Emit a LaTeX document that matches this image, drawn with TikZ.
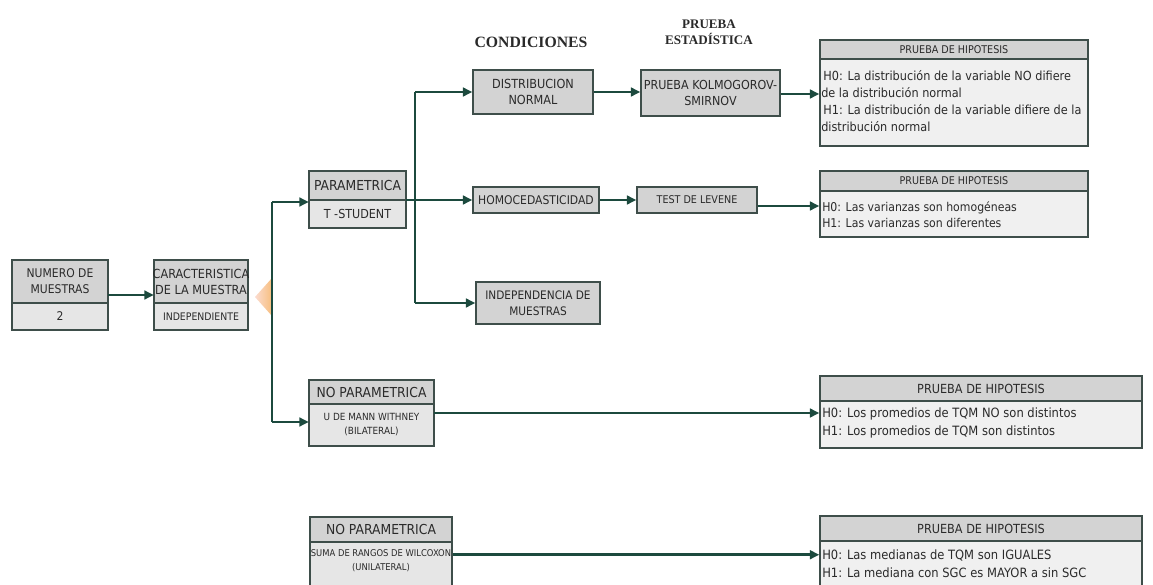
\documentclass[tikz,border=0pt]{standalone}
\usepackage{fontspec}
\setmainfont{DejaVu Sans}[FakeStretch=0.9]
\newfontfamily\hdfont{Liberation Serif}
\usetikzlibrary{fit,arrows.meta}
\definecolor{bordc}{HTML}{3E4E4A}
\definecolor{hdrfill}{HTML}{D3D3D3}
\definecolor{lowfill}{HTML}{E6E6E6}
\definecolor{bodyfill}{HTML}{F0F0F0}
\definecolor{arrc}{HTML}{1C4A3E}
\definecolor{trileft}{HTML}{FBDCD0}
\definecolor{triright}{HTML}{F7BE7E}
\definecolor{txtc}{HTML}{2A2A2A}
\newcommand{\fz}[2]{\fontsize{#1}{#2}\selectfont}
% \cbox{style}{fit points}{name}{font}{text}
\newcommand{\cbox}[5]{%
  \node[#1, fit={#2}] (#3) {};
  \node[inner sep=0pt, align=center, text=txtc, font=#4] (#3t) at (#3.center) {#5};}
\tikzset{
  cell/.style={draw=bordc, line width=1.1pt, inner sep=0pt},
  hdr/.style={cell, fill=hdrfill},
  low/.style={cell, fill=lowfill},
  body/.style={cell, fill=bodyfill},
  outer/.style={inner sep=0pt},
  txt/.style={inner sep=0pt, align=left, anchor=north west, text=txtc},
  ln/.style={draw=arrc, line width=2.2pt},
  arr/.style={ln, -{Triangle[length=7pt,width=6.5pt]}},
}
\begin{document}
\begin{tikzpicture}[x=0.75pt,y=-0.75pt]
\useasboundingbox (0,0) rectangle (1153,585);
\begin{scope}
\clip (0,0) rectangle (1153,585);
% headings
\node[inner sep=0pt, text=txtc, font=\hdfont\bfseries\fz{11.8}{12}] (hcond) at (531,42) {CONDICIONES};
\node[inner sep=0pt, align=center, text=txtc, font=\hdfont\bfseries\fz{9.8}{12}] (hest) at (709,32) {PRUEBA\\ESTAD\'ISTICA};

% NUMERO DE MUESTRAS
\node[outer, fit={(12,260)(108,330)}] (numbox) {};
\cbox{hdr}{(12,260)(108,303)}{numh}{\fz{9}{12}}{NUMERO DE\\MUESTRAS}
\cbox{low}{(12,303)(108,330)}{numl}{\fz{9}{9}}{2}
% CARACTERISTICA
\node[outer, fit={(154,260)(248,330)}] (carbox) {};
\cbox{hdr}{(154,260)(248,303)}{carh}{\fz{9.4}{12}}{CARACTERISTICA\\DE LA MUESTRA}
\cbox{low}{(154,303)(248,330)}{carl}{\fz{7.8}{8}}{INDEPENDIENTE}
% PARAMETRICA
\node[outer, fit={(309,171)(406,228)}] (parbox) {};
\cbox{hdr}{(309,171)(406,200)}{parh}{\fz{10.3}{11}}{PARAMETRICA}
\cbox{low}{(309,200)(406,228)}{parl}{\fz{9.3}{10}}{T -STUDENT}
% NO PARAMETRICA (Mann Whitney)
\node[outer, fit={(309,380)(434,446)}] (nopbox) {};
\cbox{hdr}{(309,380)(434,404)}{noph}{\fz{10.3}{11}}{NO PARAMETRICA}
\cbox{low}{(309,404)(434,446)}{nopl}{\fz{7.4}{10.5}}{U DE MANN WITHNEY\\(BILATERAL)}
% NO PARAMETRICA (Wilcoxon)
\node[outer, fit={(310,517)(452,600)}] (wilbox) {};
\cbox{hdr}{(310,517)(452,542)}{wilh}{\fz{10.3}{11}}{NO PARAMETRICA}
\node[low, fit={(310,542)(452,600)}] (will) {};
\node[inner sep=0pt, align=center, text=txtc, font=\fz{7}{10.5}, anchor=north] (wilt) at (381,549) {SUMA DE RANGOS DE WILCOXON\\(UNILATERAL)};

% conditions
\cbox{hdr}{(473,70)(593,114)}{dist}{\fz{9.4}{12}}{DISTRIBUCION\\NORMAL}
\cbox{hdr}{(641,70)(780,116)}{kolm}{\fz{9.3}{12}}{PRUEBA KOLMOGOROV-\\SMIRNOV}
\cbox{hdr}{(473,187)(599,213)}{homo}{\fz{9}{10}}{HOMOCEDASTICIDAD}
\cbox{hdr}{(637,187)(757,213)}{lev}{\fz{8}{9}}{TEST DE LEVENE}
\cbox{hdr}{(476,282)(600,324)}{indep}{\fz{8.8}{12}}{INDEPENDENCIA DE\\MUESTRAS}

% hypothesis boxes
\cbox{hdr}{(820,40)(1088,59)}{hyp1h}{\fz{8}{8}}{PRUEBA DE HIPOTESIS}
\node[body, fit={(820,59)(1088,146)}] (hyp1b) {};
\node[txt, font=\fz{9.4}{12.8}] (hyp1t) at (821,70) {\,H0: La distribuci\'on de la variable NO difiere\\de la distribuci\'on normal\\\,H1: La distribuci\'on de la variable difiere de la\\distribuci\'on normal};

\cbox{hdr}{(820,171)(1088,191)}{hyp2h}{\fz{8}{8}}{PRUEBA DE HIPOTESIS}
\node[body, fit={(820,191)(1088,237)}] (hyp2b) {};
\node[txt, font=\fz{9.1}{12}] (hyp2t) at (822,202) {H0: Las varianzas son homog\'eneas\\H1: Las varianzas son diferentes};

\cbox{hdr}{(820,376)(1142,401)}{hyp3h}{\fz{9.4}{10}}{PRUEBA DE HIPOTESIS}
\node[body, fit={(820,401)(1142,448)}] (hyp3b) {};
\node[txt, font=\fz{9.6}{13.5}] (hyp3t) at (822,408) {H0: Los promedios de TQM NO son distintos\\H1: Los promedios de TQM son distintos};

\cbox{hdr}{(820,516)(1142,541)}{hyp4h}{\fz{9.4}{10}}{PRUEBA DE HIPOTESIS}
\node[body, fit={(820,541)(1142,600)}] (hyp4b) {};
\node[txt, font=\fz{9.6}{13}] (hyp4t) at (822,550) {H0: Las medianas de TQM son IGUALES\\H1: La mediana con SGC es MAYOR a sin SGC};
\end{scope}

% decision triangle
\coordinate (tA) at (255,297);
\coordinate (tB) at (272,278);
\coordinate (tC) at (272,316);
\shade[left color=trileft, right color=triright] (tA) -- (tB) -- (tC) -- cycle;

% connectors
\draw[arr] (numbox.east) -- (numbox.east -| carbox.west);
\coordinate (j1) at (272,202);
\coordinate (j2) at (272,422);
\draw[ln] (j1) -- (j2);
\draw[arr] (j1) -- (j1 -| parbox.west);
\draw[arr] (j2) -- (j2 -| nopbox.west);

\coordinate (k1) at (415,92);
\coordinate (k3) at (415,303);
\draw[ln] (k1) -- (k3);
\draw[arr] (k1) -- (k1 -| dist.west);
\draw[arr] (k3) -- (k3 -| indep.west);
\draw[arr] (parbox.east |- homo.west) -- (homo.west);

\draw[arr] (dist.east) -- (dist.east -| kolm.west);
\draw[arr] ([yshift=-0.75pt]kolm.east) -- ([yshift=-0.75pt]kolm.east -| hyp1b.west);
\draw[arr] (homo.east) -- (homo.east -| lev.west);
\draw[arr] ([yshift=-4.5pt]lev.east) -- ([yshift=-4.5pt]lev.east -| hyp2b.west);
\draw[arr] (nopbox.east) -- (nopbox.east -| hyp3b.west);
\draw[arr] ([yshift=-9pt]wilh.south east) -- ([yshift=-9pt]wilh.south east -| hyp4b.west);
\end{tikzpicture}
\end{document}
